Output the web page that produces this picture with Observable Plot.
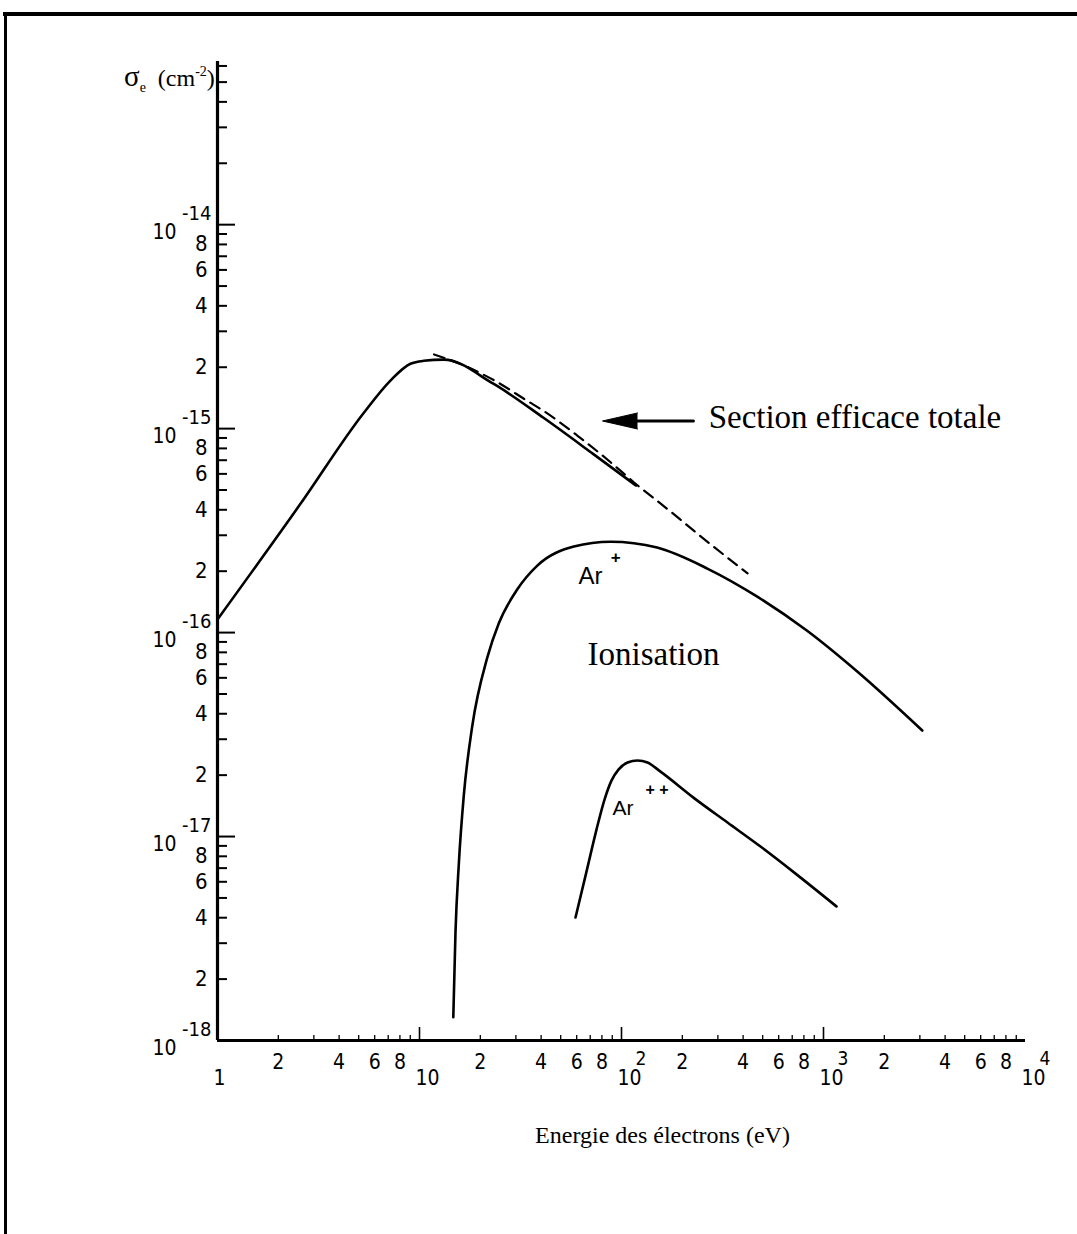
<!DOCTYPE html>
<html><head><meta charset="utf-8">
<script src="https://cdn.jsdelivr.net/npm/d3@7"></script>
<script src="https://cdn.jsdelivr.net/npm/@observablehq/plot@0.6"></script>
<style>
html,body{margin:0;padding:0;background:#fff;}
#wrap{position:relative;width:1077px;height:1234px;overflow:hidden;background:#fff;}
#wrap svg{position:absolute;left:0;top:0;}
.bt{position:absolute;left:3px;top:12px;width:1074px;height:4px;background:#000;}
.bl{position:absolute;left:4px;top:12px;width:3px;height:1222px;background:#000;}
.ytitle{position:absolute;left:124px;top:60px;font-family:"Liberation Serif",serif;font-size:24px;color:#000;white-space:nowrap;}
.ytitle .sg{font-size:29px;}
.ytitle sub{font-size:14px;vertical-align:-6px;}
.ytitle sup{font-size:14px;vertical-align:10px;}
.ytitle .gap{display:inline-block;width:12px;}
</style></head><body>
<div id="wrap"><div class="bt"></div><div class="bl"></div>
<div class="ytitle"><span class="sg">σ</span><sub>e</sub><span class="gap"></span>(cm<sup>-2</sup>)</div>
</div>
<script>
// ---- data ----
const totalEnergy = [1.0, 2.58, 5.28, 7.18, 9.02, 10.5, 13.2, 23.2, 41.1, 72.6, 118];
const totalSigma  = [1.16e-16, 4.29e-16, 1.19e-15, 1.72e-15, 2.08e-15, 2.15e-15, 2.18e-15, 1.66e-15, 1.13e-15, 7.5e-16, 5.26e-16];

const dashEnergy = [11.8, 16.6, 23.3, 34.1, 41.2, 60.4, 88.3, 115, 175, 238, 421];
const dashSigma  = [2.31e-15, 2.04e-15, 1.73e-15, 1.37e-15, 1.22e-15, 9.25e-16, 6.84e-16, 5.46e-16, 3.92e-16, 3.05e-16, 1.95e-16];

const arPlusEnergy = [14.7, 15.07, 15.66, 16.57, 18.23, 21.65, 24.7, 30.5, 38.3, 58.1, 88.3, 150, 266, 470, 830, 1469, 3083];
const arPlusSigma  = [1.3e-18, 3.38e-18, 7.38e-18, 1.59e-17, 3.46e-17, 7.53e-17, 1.11e-16, 1.63e-16, 2.13e-16, 2.64e-16, 2.79e-16, 2.61e-16, 2.06e-16, 1.50e-16, 1.02e-16, 6.44e-17, 3.31e-17];

const arPPEnergy = [59.2, 67.1, 75.2, 82.4, 89.2, 96.6, 107.1, 120, 134.5, 156, 227, 334.8, 487.7, 727, 1160];
const arPPSigma  = [4.01e-18, 6.73e-18, 1.082e-17, 1.518e-17, 1.88e-17, 2.13e-17, 2.305e-17, 2.358e-17, 2.305e-17, 2.08e-17, 1.552e-17, 1.171e-17, 8.93e-18, 6.58e-18, 4.54e-18];

// ---- ticks ----
const xMajorTicks = [1, 10, 100, 1000, 10000];
const xMajorLabelBase = ["1", "10", "10", "10", "10"];
const xMajorLabelExp  = ["", "", "2", "3", "4"];
const xDecades = [1, 10, 100, 1000];
const minorMult = [2, 3, 4, 5, 6, 7, 8, 9];
const labelMult = [2, 4, 6, 8];

const yMajorTicks = [1e-18, 1e-17, 1e-16, 1e-15, 1e-14];
const yMajorExp = ["-18", "-17", "-16", "-15", "-14"];
const yDecades = [1e-18, 1e-17, 1e-16, 1e-15];
const yTopMinor = [2e-14, 3e-14, 4e-14, 5e-14, 6e-14];

// ---- annotations ----
const annoTotal = "Section efficace totale";
const annoIon = "Ionisation";
const xTitle = "Energie des électrons (eV)";

// ---- build ----
const xMinorTicks = xDecades.flatMap(d => minorMult.map(m => d * m));
const xMinorLabels = xDecades.flatMap(d => labelMult.map(m => ({v: d * m, t: String(m)})));
const yMinorTicks = yDecades.flatMap(d => minorMult.map(m => d * m)).concat(yTopMinor);
const yMinorLabels = yDecades.flatMap(d => labelMult.map(m => ({v: d * m, t: String(m)})));
const zip = (xs, ys) => xs.map((x, i) => ({x, y: ys[i]}));

const W = 1077, H = 1234, mL = 217, mR = 52, mT = 61, mB = 194;
const fw = W - mL - mR, fh = H - mT - mB;
const tickFont = "'Liberation Sans Narrow','DejaVu Sans Condensed','Roboto Condensed',sans-serif";
const serif = "'Liberation Serif','DejaVu Serif',serif";
const sans = "'Liberation Sans',Arial,sans-serif";

const chart = Plot.plot({
  width: W, height: H,
  marginLeft: mL, marginRight: mR, marginTop: mT, marginBottom: mB,
  x: {type: "log", domain: [1, 1e4], axis: null},
  y: {type: "log", domain: [1e-18, Math.pow(10, -13.2)], axis: null},
  style: {background: "transparent", color: "#000"},
  marks: [
    // axes
    Plot.ruleX(xMinorTicks, {insetTop: fh - 5, strokeWidth: 1.3}),
    Plot.ruleX(xMajorTicks.slice(1, 4), {insetTop: fh - 13, strokeWidth: 1.6}),
    Plot.ruleY(yMinorTicks, {insetRight: fw - 10, strokeWidth: 2}),
    Plot.ruleY(yMajorTicks.slice(1), {insetRight: fw - 18, strokeWidth: 2}),
    Plot.ruleY([1e-18], {strokeWidth: 3.2}),
    Plot.ruleX([1], {strokeWidth: 3.2}),
    // x labels
    Plot.text(xMinorLabels, {x: "v", text: "t", frameAnchor: "bottom", dy: 28, lineAnchor: "bottom", fontFamily: tickFont, fontSize: 21}),
    Plot.text(xMajorTicks, {x: d => d, text: (d, i) => xMajorLabelBase[i], frameAnchor: "bottom", dx: -4, dy: 44, textAnchor: "start", lineAnchor: "bottom", fontFamily: tickFont, fontSize: 21}),
    Plot.text(xMajorTicks, {x: d => d, text: (d, i) => xMajorLabelExp[i], frameAnchor: "bottom", dx: 14, dy: 24, textAnchor: "start", lineAnchor: "bottom", fontFamily: tickFont, fontSize: 19}),
    // y labels
    Plot.text(yMinorLabels, {y: "v", text: "t", frameAnchor: "left", dx: -10, textAnchor: "end", fontFamily: tickFont, fontSize: 22}),
    Plot.text(yMajorTicks, {y: d => d, text: () => "10", frameAnchor: "left", dx: -41, dy: 14, textAnchor: "end", lineAnchor: "bottom", fontFamily: tickFont, fontSize: 21}),
    Plot.text(yMajorTicks, {y: d => d, text: (d, i) => yMajorExp[i], frameAnchor: "left", dx: -6, dy: -5, textAnchor: "end", lineAnchor: "bottom", fontFamily: tickFont, fontSize: 20}),
    // curves
    Plot.line(zip(totalEnergy, totalSigma), {x: "x", y: "y", curve: "monotone-x", strokeWidth: 2.6}),
    Plot.line(zip(dashEnergy, dashSigma), {x: "x", y: "y", curve: "monotone-x", strokeWidth: 2.2, strokeDasharray: "11,7"}),
    Plot.line(zip(arPlusEnergy, arPlusSigma), {x: "x", y: "y", curve: "monotone-x", strokeWidth: 2.6}),
    Plot.line(zip(arPPEnergy, arPPSigma), {x: "x", y: "y", curve: "monotone-x", strokeWidth: 2.6}),
    // annotations
    Plot.text([annoTotal], {x: 270, y: 1.01e-15, text: d => d, textAnchor: "start", lineAnchor: "bottom", fontFamily: serif, fontSize: 33}),
    Plot.line([{x: 120, y: 1.09e-15}, {x: 227, y: 1.09e-15}], {x: "x", y: "y", strokeWidth: 3}),
    Plot.vector([{x: 120, y: 1.09e-15}], {x: "x", y: "y", length: 35, rotate: -90, anchor: "start", shape: "spike", r: 8, fill: "#000", stroke: "#000", strokeWidth: 1}),
    Plot.text([annoIon], {x: 67.9, y: 6.9e-17, text: d => d, textAnchor: "start", lineAnchor: "bottom", fontFamily: serif, fontSize: 33}),
    Plot.text(["Ar"], {x: 61.2, y: 1.74e-16, text: d => d, textAnchor: "start", lineAnchor: "bottom", fontFamily: sans, fontSize: 24}),
    Plot.text(["+"], {x: 93.5, y: 2.33e-16, text: d => d, textAnchor: "middle", fontFamily: sans, fontSize: 17, fontWeight: "bold"}),
    Plot.text(["Ar"], {x: 90.2, y: 1.27e-17, text: d => d, textAnchor: "start", lineAnchor: "bottom", fontFamily: sans, fontSize: 21}),
    Plot.text(["+ +"], {x: 131.5, y: 1.70e-17, text: d => d, textAnchor: "start", fontFamily: sans, fontSize: 16, fontWeight: "bold"}),
    // x title
    Plot.text([xTitle], {frameAnchor: "bottom", dx: 41, dy: 102, text: d => d, lineAnchor: "bottom", fontFamily: serif, fontSize: 24})
  ]
});
document.getElementById("wrap").appendChild(chart);
</script>
</body></html>
